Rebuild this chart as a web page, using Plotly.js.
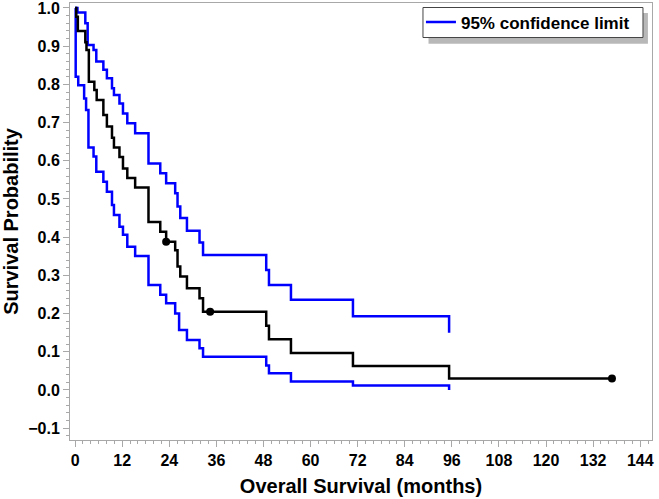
<!DOCTYPE html>
<html>
<head>
<meta charset="utf-8">
<script src="https://cdn.plot.ly/plotly-3.0.1.min.js"></script>
<style>html,body{margin:0;padding:0;background:#fff;}#chart{width:659px;height:499px;}</style>
</head>
<body>
<div id="chart"></div>
<script>
// Kaplan-Meier estimate (months, survival probability)
var estTime = [0, 0.3, 0.7, 2.6, 2.9, 3.5, 4.9, 5.5, 7.2, 8.1, 9.4, 9.9, 11.3, 12.2, 13.3, 15.3, 18.7, 21.7, 23.2, 25.5, 26.1, 26.8, 28.5, 31.7, 32.6, 48.7, 49.4, 55.0, 70.8, 95.3, 136.8];
var estSurv = [1.0, 0.977, 0.94, 0.91, 0.89, 0.807, 0.785, 0.759, 0.72, 0.69, 0.66, 0.635, 0.61, 0.58, 0.555, 0.53, 0.44, 0.414, 0.388, 0.366, 0.323, 0.297, 0.266, 0.24, 0.205, 0.168, 0.133, 0.097, 0.063, 0.03, 0.03];

// Upper 95% confidence limit
var upTime = [0, 0.6, 2.6, 3.2, 4.7, 5.4, 7.2, 8.1, 9.4, 9.9, 11.3, 12.2, 13.3, 15.3, 18.7, 21.7, 23.2, 25.5, 26.1, 26.8, 28.5, 31.7, 32.6, 48.7, 49.4, 55.0, 70.8, 95.3];
var upSurv = [1.0, 0.988, 0.96, 0.903, 0.89, 0.86, 0.838, 0.816, 0.79, 0.772, 0.75, 0.724, 0.698, 0.672, 0.593, 0.567, 0.541, 0.515, 0.48, 0.45, 0.417, 0.386, 0.353, 0.314, 0.275, 0.236, 0.193, 0.15];

// Lower 95% confidence limit
var loTime = [0, 0.15, 0.8, 2.3, 2.8, 3.4, 4.7, 5.4, 7.2, 8.1, 9.4, 9.9, 11.3, 12.2, 13.3, 15.3, 18.7, 21.7, 23.2, 25.5, 26.5, 28.5, 31.7, 32.6, 48.7, 49.4, 55.0, 70.8, 95.3];
var loSurv = [1.0, 0.82, 0.798, 0.763, 0.733, 0.635, 0.611, 0.571, 0.545, 0.519, 0.484, 0.458, 0.427, 0.406, 0.375, 0.351, 0.275, 0.249, 0.227, 0.2, 0.157, 0.131, 0.109, 0.087, 0.064, 0.044, 0.022, 0.012, 0.0];

// Censored observations
var censorTime = [23.2, 34.4, 136.8];
var censorSurv = [0.388, 0.205, 0.03];

var legendLabel = "95% confidence limit";
var xTitle = "Overall Survival (months)";
var yTitle = "Survival Probability";

var FONT = "Liberation Sans, Arial, sans-serif";

var traces = [
  {x: upTime, y: upSurv, mode: "lines", line: {shape: "hv", color: "#0000FF", width: 2.5}, name: legendLabel, showlegend: true, legendgroup: "ci"},
  {x: loTime, y: loSurv, mode: "lines", line: {shape: "hv", color: "#0000FF", width: 2.5}, name: legendLabel, showlegend: false, legendgroup: "ci"},
  {x: estTime, y: estSurv, mode: "lines", line: {shape: "hv", color: "#000000", width: 2.5}, showlegend: false},
  {x: censorTime, y: censorSurv, mode: "markers", marker: {color: "#000000", size: 8}, showlegend: false}
];

var axisCommon = {
  showline: true, mirror: true, linecolor: "#A8A8A8", linewidth: 1,
  ticks: "outside", tickcolor: "#A8A8A8", ticklen: 6, tickwidth: 1,
  showgrid: false, zeroline: false, ticklabeloverflow: "allow",
  tickfont: {family: FONT, size: 16, color: "#000", weight: "bold"}
};

var layout = {
  width: 659, height: 499,
  margin: {l: 70, r: 7, t: 3, b: 59},
  paper_bgcolor: "#fff", plot_bgcolor: "#fff",
  showlegend: true,
  xaxis: Object.assign({}, axisCommon, {
    range: [-1.3, 147], tick0: 0, dtick: 12,
    minor: {dtick: 2, ticks: "outside", ticklen: 3, tickcolor: "#A8A8A8", showgrid: false},
    title: {text: xTitle, font: {family: FONT, size: 20, color: "#000", weight: "bold"}, standoff: 10}
  }),
  yaxis: Object.assign({}, axisCommon, {
    range: [-0.131, 1.013], tick0: 0, dtick: 0.1, tickformat: ".1f",
    minor: {dtick: 0.02, ticks: "outside", ticklen: 3, tickcolor: "#A8A8A8", showgrid: false},
    title: {text: yTitle, font: {family: FONT, size: 20, color: "#000", weight: "bold"}, standoff: 8}
  }),
  legend: {
    x: 0.603, y: 0.9554, xanchor: "left", yanchor: "middle",
    bgcolor: "rgba(0,0,0,0)", borderwidth: 0,
    font: {family: FONT, size: 17, color: "#000", weight: "bold"},
    itemwidth: 30
  },
  shapes: [
    {type: "rect", xref: "paper", yref: "paper", x0: 0.616, x1: 0.993, y0: 0.907, y1: 0.977,
     fillcolor: "#B8B8B8", line: {width: 0}, layer: "above"},
    {type: "rect", xref: "paper", yref: "paper", x0: 0.6065, x1: 0.9845, y0: 0.921, y1: 0.9897,
     fillcolor: "#FFFFFF", line: {width: 1, color: "#444"}, layer: "above"}
  ]
};

Plotly.newPlot("chart", traces, layout, {displayModeBar: false, staticPlot: true});
</script>
</body>
</html>
